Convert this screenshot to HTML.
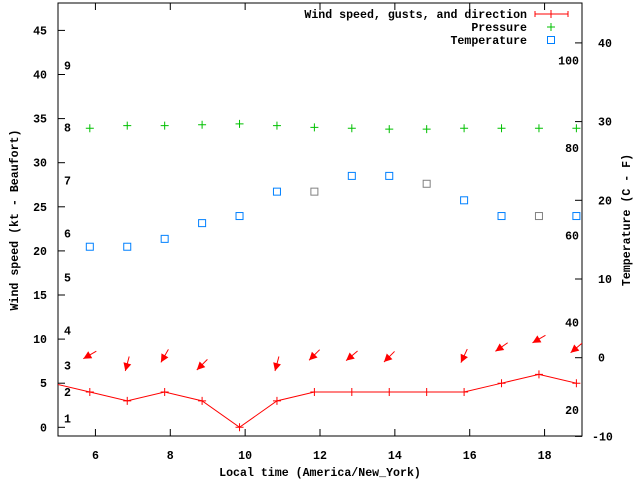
<!DOCTYPE html>
<html><head><meta charset="utf-8"><style>
body{margin:0;background:#fff}
svg text{font-family:"Liberation Mono","DejaVu Sans Mono",monospace;font-weight:bold;font-size:11.6px;fill:#000}
</style></head><body>
<svg id="chart" width="640" height="480" xmlns="http://www.w3.org/2000/svg"></svg>
<script>
const times=[5.85,6.85,7.85,8.85,9.85,10.85,11.85,12.85,13.85,14.85,15.85,16.85,17.85,18.85];
const windTimes=[4.85,5.85,6.85,7.85,8.85,9.85,10.85,11.85,12.85,13.85,14.85,15.85,16.85,17.85,18.85];
const windKt=[5,4,3,4,3,0,3,4,4,4,4,4,5,6,5];
const pressureScaled=[33.9,34.2,34.2,34.3,34.4,34.2,34.0,33.9,33.8,33.8,33.9,33.9,33.9,33.9];
const tempC=[14.1,14.1,15.1,17.1,18.0,21.1,21.1,23.1,23.1,22.1,20.0,18.0,18.0,18.0];
const tempGrey=[0,0,0,0,0,0,1,0,0,1,0,0,1,0];
const arrowTimes=[5.85,6.85,7.85,8.85,10.85,11.85,12.85,13.85,15.85,16.85,17.85,18.85];
const arrowKt=[8.2,7.2,8.1,7.1,7.2,8.2,8.1,8.0,8.1,9.1,10.0,9.0];
const arrowDir=[60,15,30,45,15,45,50,45,25,55,60,50];
const xTicks=[6,8,10,12,14,16,18];
const yTicks=[0,5,10,15,20,25,30,35,40,45];
const y2Ticks=[-10,0,10,20,30,40];
const fTicks=[20,40,60,80,100];
const beaufortKt=[1,4,7,11,17,22,28,34,41];
const beaufortLbl=["1","2","3","4","5","6","7","8","9"];

const L=58,R=582,T=3,B=436;
const X=t=>L+(t-5)*(R-L)/14;
const Y=v=>427.3-v*8.82;
const Y2=c=>357.7-c*7.87;
const svg=document.getElementById('chart');
const NS='http://www.w3.org/2000/svg';
function mk(tag,attrs,name,parent){const e=document.createElementNS(NS,tag);for(const k in attrs)e.setAttribute(k,attrs[k]);


(parent||svg).appendChild(e);return e;}
function txt(x,y,s,anchor,name,extra){const e=mk('text',Object.assign({x:x,y:y,'text-anchor':anchor||'start'},extra||{}),name);e.textContent=s;return e;}

// clip
const defs=mk('defs',{},'defs');
const cp=mk('clipPath',{id:'pc'},'plot-clip',defs);
mk('rect',{x:L,y:T,width:R-L,height:B-T},'plot-clip-rect',cp);

// axes frame
mk('rect',{x:L,y:T,width:R-L,height:B-T,fill:'none',stroke:'#000','stroke-width':1},'plot-frame');
xTicks.forEach(t=>{const x=X(t);
mk('line',{x1:x,y1:B,x2:x,y2:B-7,stroke:'#000'},'x-tick');
mk('line',{x1:x,y1:T,x2:x,y2:T+7,stroke:'#000'},'x-tick-top');
txt(x,459,String(t),'middle','x-tick-label');});
yTicks.forEach(v=>{const y=Y(v);
mk('line',{x1:L,y1:y,x2:L+7,y2:y,stroke:'#000'},'y-tick');
txt(47,y+4,String(v),'end','y-tick-label');});
y2Ticks.forEach(c=>{const y=Y2(c);
mk('line',{x1:R,y1:y,x2:R-7,y2:y,stroke:'#000'},'y2-tick');
txt(c<0?592:598,y+4,String(c),'start','y2-tick-label');});
fTicks.forEach(f=>{const c=(f-32)*5/9;txt(579,Y2(c)+4,String(f),'end','fahrenheit-label');});
beaufortKt.forEach((k,i)=>txt(64,Y(k)+4,beaufortLbl[i],'start','beaufort-label'));

txt(320,476,'Local time (America/New_York)','middle','x-axis-title');
txt(0,0,'Wind speed (kt - Beaufort)','middle','y-axis-title',{transform:'translate(18,220) rotate(-90)'});
txt(0,0,'Temperature (C - F)','middle','y2-axis-title',{transform:'translate(630,220) rotate(-90)'});

const g=mk('g',{'clip-path':'url(#pc)'},'plot-area');
// wind line
let pts=windTimes.map((t,i)=>X(t)+','+Y(windKt[i])).join(' ');
mk('polyline',{points:pts,fill:'none',stroke:'#f00','stroke-width':1},'wind-line',g);
windTimes.forEach((t,i)=>{const x=X(t),y=Y(windKt[i]);
mk('path',{d:`M${x-4},${y}H${x+4}M${x},${y-4}V${y+4}`,stroke:'#f00'},'wind-point',g);});
// arrows
arrowTimes.forEach((t,i)=>{const cx=X(t),cy=Y(arrowKt[i]);const a=arrowDir[i]*Math.PI/180;
const dx=Math.sin(a),dy=-Math.cos(a);const len=15;
const tx=cx+dx*len/2,ty=cy+dy*len/2,hx=cx-dx*len/2,hy=cy-dy*len/2;
mk('line',{x1:tx,y1:ty,x2:hx,y2:hy,stroke:'#f00'},'wind-direction-shaft',g);
const px=-dy,py=dx;const bx=hx+dx*8,by=hy+dy*8;
mk('polygon',{points:`${hx},${hy} ${bx+px*4},${by+py*4} ${bx-px*4},${by-py*4}`,fill:'#f00'},'wind-direction-head',g);});
// pressure
times.forEach((t,i)=>{const x=X(t),y=Y(pressureScaled[i]);
mk('path',{d:`M${x-4},${y}H${x+4}M${x},${y-4}V${y+4}`,stroke:'#00c000'},'pressure-point',g);});
// temperature
times.forEach((t,i)=>{const x=X(t),y=Y2(tempC[i]);
mk('rect',{x:x-3.5,y:y-3.5,width:7,height:7,fill:'none',stroke:tempGrey[i]?'#808080':'#0080ff'},'temperature-point',g);});

// legend
txt(527,18,'Wind speed, gusts, and direction','end','legend-wind-label');
mk('path',{d:'M535,14H568M535,11V17M568,11V17M551,10V18',stroke:'#f00'},'legend-wind-sample');
txt(527,31,'Pressure','end','legend-pressure-label');
mk('path',{d:'M547,27H555M551,23V31',stroke:'#00c000'},'legend-pressure-sample');
txt(527,44,'Temperature','end','legend-temperature-label');
mk('rect',{x:547.5,y:36.5,width:7,height:7,fill:'none',stroke:'#0080ff'},'legend-temperature-sample');
</script>
</body></html>
